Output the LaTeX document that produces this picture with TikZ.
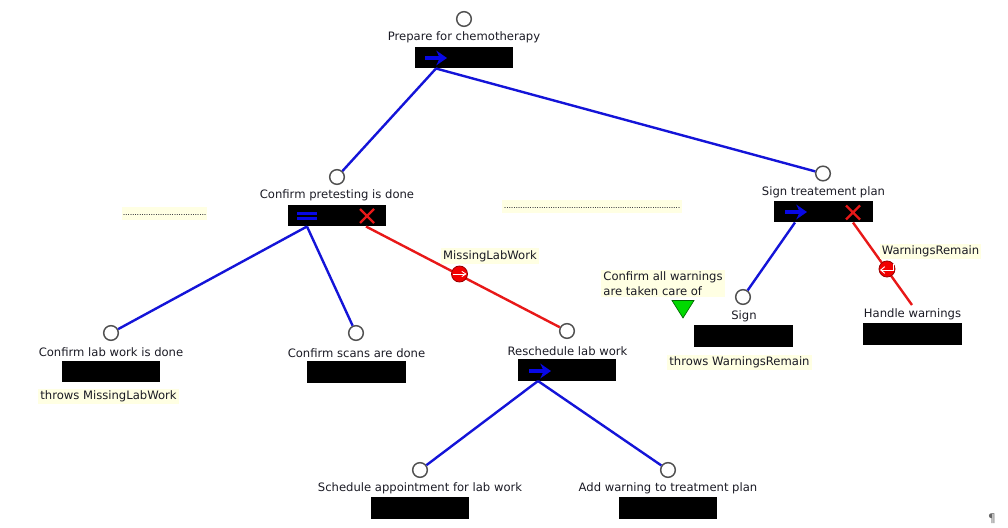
\documentclass[tikz,border=0pt]{standalone}
\usepackage{fontspec}
\setmainfont{DejaVu Sans}
\usetikzlibrary{arrows.meta,calc}
\definecolor{tipyellow}{HTML}{FFFFE3}
\definecolor{lineblue}{HTML}{1414D8}
\definecolor{linered}{HTML}{E81818}
\definecolor{iconblue}{HTML}{0808E6}
\definecolor{ringgray}{HTML}{505050}
\definecolor{txt}{HTML}{1A1A24}
\tikzset{
 lbl/.style={font=\fontsize{8.7}{11}\selectfont,text=txt,inner sep=0pt,align=left},
 tip/.style={lbl,fill=tipyellow,inner xsep=1.5pt,inner ysep=1.5pt},
 dots/.style={fill=tipyellow,inner xsep=0pt,inner ysep=0pt,minimum height=10pt,anchor=center},
 ring/.style={circle,draw=ringgray,fill=white,line width=1.1pt,minimum size=11pt,inner sep=0pt},
 hidebox/.style={fill=black,minimum width=74pt,minimum height=16pt,inner sep=0pt},
 blueedge/.style={draw=lineblue,line width=1.8pt},
 rededge/.style={draw=linered,line width=1.8pt},
 redball/.style={circle,draw=black!40!red,fill=red!95!black,line width=.6pt,minimum size=12pt,inner sep=0pt},
 seqarrow/.style={draw=iconblue,line width=2.4pt,-{Stealth[length=8pt,width=11pt]}},
 crossmark/.style={draw=linered,line width=1.8pt},
}
\begin{document}
\begin{tikzpicture}[x=.75pt,y=-.75pt]
\useasboundingbox (0,0) rectangle (1008,528);
% yellow note dots
\node[dots,minimum width=64pt] (note1) at (164.5,213.5) {};
\node[dots,minimum width=135pt] (note2) at (592,206.5) {};
\path (note1.center) ++(0,2) node[font=\fontsize{6}{6}\selectfont,text=txt,inner sep=0pt] {\foreach \i in {1,...,36}{.\kern-.17pt}};
\path (note2.center) ++(0,2) node[font=\fontsize{6}{6}\selectfont,text=txt,inner sep=0pt] {\foreach \i in {1,...,76}{.\kern-.17pt}};
% boxes
\node[hidebox] (b0) at (464,57.5) {};
\node[hidebox] (b1) at (337,215.5) {};
\node[hidebox] (b2) at (823.5,211.5) {};
\node[hidebox] (b3) at (111,371.5) {};
\node[hidebox] (b4) at (356.5,372) {};
\node[hidebox] (b5) at (567,370) {};
\node[hidebox] (b6) at (420,508) {};
\node[hidebox] (b7) at (668,508) {};
\node[hidebox] (b8) at (743.5,336) {};
\node[hidebox] (b9) at (912.5,334) {};
% circles
\node[ring] (c0) at (464,19) {};
\node[ring] (c1) at (337,177) {};
\node[ring] (c2) at (823,173.5) {};
\node[ring] (c3) at (111,333) {};
\node[ring] (c4) at (356,333) {};
\node[ring] (c5) at (567,331) {};
\node[ring] (c6) at (420,470) {};
\node[ring] (c7) at (668,470) {};
\node[ring] (c8) at (743,297) {};
\coordinate (c9) at (912,305);
% attachment points
\coordinate (p0) at (436,68.5);
\coordinate (p1) at (307,226.5);
\coordinate (p1r) at (366,226.5);
\coordinate (p2) at (795,222.5);
\coordinate (p2r) at (853,222.5);
\coordinate (p5) at (538,381);
% connectors
\draw[blueedge] (p0) -- (c1);
\draw[blueedge] (p0) -- (c2);
\draw[blueedge] (p1) -- (c3);
\draw[blueedge] (p1) -- (c4);
\draw[rededge] (p1r) -- (c5);
\draw[blueedge] (p2) -- (c8);
\draw[rededge] (p2r) -- (c9);
\draw[blueedge] (p5) -- (c6);
\draw[blueedge] (p5) -- (c7);
% labels
\node[lbl] (t0) at (464,37.7) {Prepare for chemotherapy};
\node[lbl] (t1) at (337,195.7) {Confirm pretesting is done};
\node[lbl] (t2) at (823.5,192.2) {Sign treatement plan};
\node[lbl] (t3) at (111,352.2) {Confirm lab work is done};
\node[lbl] (t4) at (356.5,352.7) {Confirm scans are done};
\node[lbl] (t5) at (567.5,350.7) {Reschedule lab work};
\node[lbl] (t6) at (420,488.7) {Schedule appointment for lab work};
\node[lbl] (t7) at (668,488.7) {Add warning to treatment plan};
\node[lbl] (t8) at (744,316.2) {Sign};
\node[lbl] (t9) at (912.5,314.2) {Handle warnings};
\node[tip] (e1) at (490,256) {MissingLabWork};
\node[tip] (e2) at (930.5,251.7) {WarningsRemain};
\node[tip] (e3) at (108.5,396.5) {throws MissingLabWork};
\node[tip] (e4) at (739.5,362.2) {throws WarningsRemain};
\node[tip] (e5) at (663,283.5) {Confirm all warnings\\are taken care of};
% red decorators
\node[redball] (r1) at (459.5,274) {};
\draw[white,line width=.6pt,-{Straight Barb[length=3pt,width=4pt]}] ($(r1)+(-7,0)$) -- ($(r1)+(7,0)$);
\node[redball] (r2) at (887,269) {};
\draw[white,line width=.7pt,-{Straight Barb[length=3pt,width=5pt]}] ($(r2)+(6,-5)$) -- ($(r2)+(6,1)$) -- ($(r2)+(-7,1)$);
% green triangle
\fill[green!85!black,draw=green!40!black,line width=.5pt] (672,300.5) -- (694,300.5) -- (683,318) -- cycle;
% operator icons
\draw[seqarrow] (425,58) -- (447,58);
\draw[seqarrow] (785,212) -- (807,212);
\draw[seqarrow] (529,371) -- (551,371);
\draw[iconblue,line width=1.6pt] (297,213.5) -- (317,213.5) (297,218.5) -- (317,218.5);
\draw[crossmark] (360,209) -- (374,223) (374,209) -- (360,223);
\draw[crossmark] (846,205.5) -- (860,219.5) (860,205.5) -- (846,219.5);
% pilcrow
\node[font=\fontsize{9}{9}\selectfont,text=black!60,inner sep=0pt] (para) at (992,519) {¶};
\end{tikzpicture}
\end{document}
